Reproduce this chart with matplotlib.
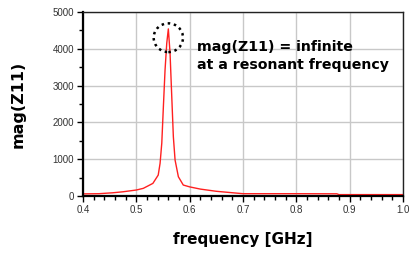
import numpy as np
import matplotlib.pyplot as plt
from matplotlib.patches import Ellipse
from matplotlib.ticker import MultipleLocator

# values
freq = [0.400, 0.430, 0.456, 0.475, 0.500, 0.513, 0.531, 0.541, 0.5445,
        0.5477, 0.5507, 0.5538, 0.557, 0.560, 0.5632, 0.5664, 0.5694,
        0.5726, 0.5788, 0.588, 0.600, 0.620, 0.650, 0.700, 0.800, 0.876,
        0.880, 0.950, 1.000]
mag = [60, 65, 90, 117, 165, 210, 345, 570, 890,
       1440, 2430, 3420, 4150, 4540, 3880, 2700, 1610,
       980, 525, 300, 250, 190, 130, 65, 65, 62,
       40, 40, 40]

xticks = [0.4, 0.5, 0.6, 0.7, 0.8, 0.9, 1.0]
xticklabels = ["0.4", "0.5", "0.6", "0.7", "0.8", "0.9", "1.0"]
yticks = [0, 1000, 2000, 3000, 4000, 5000]

fig = plt.figure(figsize=(4.11, 2.54), dpi=100)
ax = fig.add_axes([0.202, 0.228, 0.7785, 0.725])

ax.plot(freq, mag, color="#ff2020", lw=1.0)

ax.set_xlim(0.4, 1.0)
ax.set_ylim(0, 5000)
ax.set_xticks(xticks)
ax.set_xticklabels(xticklabels)
ax.set_yticks(yticks)
ax.xaxis.set_minor_locator(MultipleLocator(0.02))
ax.yaxis.set_minor_locator(MultipleLocator(500))
ax.grid(True, which="major", color="#c8c8c8", lw=1.0)
ax.set_axisbelow(True)

ax.tick_params(which="major", direction="out", length=4.5, width=1.0,
               color="black", labelsize=7, labelcolor="#333333", pad=2)
ax.tick_params(which="minor", direction="out", length=3, width=1.0, color="black")
for lab in ax.get_xticklabels() + ax.get_yticklabels():
    lab.set_family("Liberation Sans")

for s in ["left", "bottom"]:
    ax.spines[s].set_linewidth(1.6)
for s in ["top", "right"]:
    ax.spines[s].set_linewidth(1.0)
    ax.spines[s].set_color("#222222")

ax.set_xlabel("frequency [GHz]", fontsize=11, fontweight="bold", labelpad=12)
ax.set_ylabel("mag(Z11)", fontsize=11.5, fontweight="bold", labelpad=19)

# dotted circle at the peak
circ = Ellipse((0.560, 4300), width=0.055, height=780, fill=False,
               ls=(0, (1, 1.5)), lw=1.8, color="black", zorder=5)
ax.add_patch(circ)

ax.text(0.614, 3800, "mag(Z11) = infinite\nat a resonant frequency",
        fontsize=10.2, fontweight="bold", va="center", ha="left",
        linespacing=1.4)

fig.savefig("out.png", dpi=100)
